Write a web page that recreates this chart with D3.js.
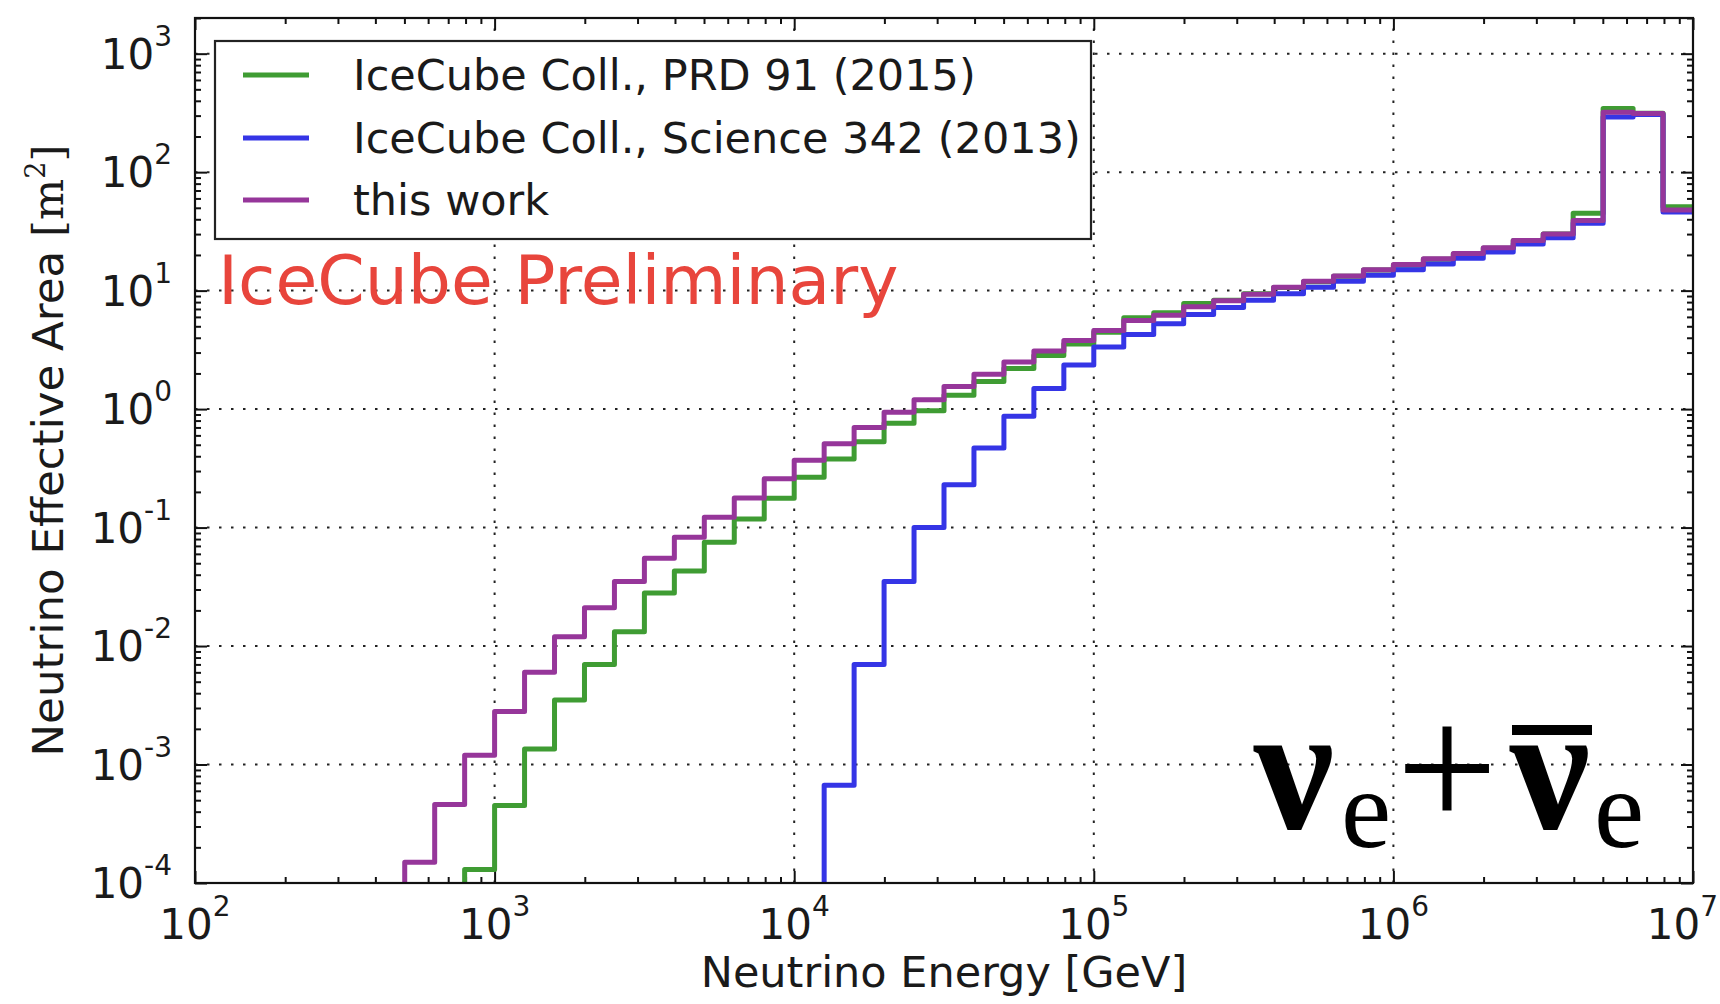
<!DOCTYPE html>
<html>
<head>
<meta charset="utf-8">
<script src="https://cdn.jsdelivr.net/npm/d3@7"></script>
<style>
  body { margin: 0; background: #fff; }
  svg { display: block; }
</style>
</head>
<body>
<svg id="chart" width="1720" height="1004"></svg>
<script>
// ---------------- DATA ----------------
// bin edges in log10(E / GeV), 0.1-decade bins
const binEdgesLog10 = [2.7, 2.8, 2.9, 3.0, 3.1, 3.2, 3.3, 3.4, 3.5, 3.6, 3.7, 3.8, 3.9,
  4.0, 4.1, 4.2, 4.3, 4.4, 4.5, 4.6, 4.7, 4.8, 4.9,
  5.0, 5.1, 5.2, 5.3, 5.4, 5.5, 5.6, 5.7, 5.8, 5.9,
  6.0, 6.1, 6.2, 6.3, 6.4, 6.5, 6.6, 6.7, 6.8, 6.9, 7.0];

// effective area [m^2] per bin (null = below the plotted range)
const prd91_2015 = [null, null, 1.3e-4,
  4.5e-4, 1.35e-3, 3.5e-3, 7.0e-3, 1.32e-2, 2.8e-2, 4.3e-2, 7.5e-2, 0.118, 0.177,
  0.266, 0.38, 0.53, 0.76, 0.97, 1.31, 1.71, 2.2, 2.84, 3.55,
  4.45, 5.9, 6.5, 7.8, 8.3, 9.4, 10.6, 11.9, 13.2, 14.9,
  16.4, 18.4, 20.4, 22.8, 26.5, 30, 45, 345, 314, 51];

const science342_2013 = [null, null, null,
  null, null, null, null, null, null, null, null, null, null,
  null, 6.7e-4, 7.0e-3, 3.5e-2, 0.10, 0.23, 0.47, 0.87, 1.49, 2.36,
  3.35, 4.27, 5.25, 6.3, 7.2, 8.3, 9.4, 10.7, 12.0, 13.5,
  15.0, 16.8, 18.8, 21.2, 24.8, 28, 37, 292, 306, 46];

const thisWork = [1.5e-4, 4.6e-4, 1.2e-3,
  2.8e-3, 6.0e-3, 1.2e-2, 2.1e-2, 3.5e-2, 5.5e-2, 8.3e-2, 0.122, 0.178, 0.258,
  0.37, 0.51, 0.70, 0.94, 1.2, 1.55, 1.97, 2.5, 3.1, 3.8,
  4.6, 5.6, 6.2, 7.3, 8.2, 9.3, 10.7, 12.0, 13.3, 15.0,
  16.6, 18.6, 20.6, 23.0, 26.5, 30, 39, 320, 312, 48];

const seriesLabels = ["IceCube Coll., PRD 91 (2015)", "IceCube Coll., Science 342 (2013)", "this work"];
const seriesValues = [prd91_2015, science342_2013, thisWork];

const xTickExponents = [2, 3, 4, 5, 6, 7];
const yTickExponents = [-4, -3, -2, -1, 0, 1, 2, 3];
const xDomain = [1e2, 1e7];
const yDomain = [1e-4, 2e3];

// ---------------- STYLE / LAYOUT ----------------
const seriesColors = ["#3f9c33", "#3535e6", "#96369a"];
const M = { l: 195, r: 1693, t: 18, b: 883 };
const FONT = "'DejaVu Sans', sans-serif";
const W = 1720;

const svg = d3.select("#chart");
const x = d3.scaleLog().domain(xDomain).range([M.l, M.r]);
const y = d3.scaleLog().domain(yDomain).range([M.b, M.t]);

svg.append("rect").attr("width", W).attr("height", 1004).attr("fill", "#fff");

svg.append("defs").append("clipPath").attr("id", "plotclip")
  .append("rect").attr("x", M.l).attr("y", M.t).attr("width", M.r - M.l).attr("height", M.b - M.t);

// ---------------- GRID ----------------
const grid = svg.append("g").attr("stroke", "#222").attr("stroke-width", 2)
  .attr("stroke-dasharray", "2.5,9.5").attr("fill", "none");
xTickExponents.map(e => Math.pow(10, e)).filter(v => v > xDomain[0] && v < xDomain[1]).forEach(v => {
  grid.append("line").attr("x1", x(v)).attr("x2", x(v)).attr("y1", M.b).attr("y2", M.t);
});
yTickExponents.map(e => Math.pow(10, e)).filter(v => v > yDomain[0] && v < yDomain[1]).forEach(v => {
  grid.append("line").attr("x1", M.l).attr("x2", M.r).attr("y1", y(v)).attr("y2", y(v));
});

// ---------------- TICKS (inside, all four sides) ----------------
const isPow10 = v => Math.abs(Math.log10(v) - Math.round(Math.log10(v))) < 1e-9;
const xMinor = x.ticks().filter(v => !isPow10(v));
const yMinor = y.ticks().filter(v => !isPow10(v));
const xMajor = xTickExponents.map(e => Math.pow(10, e));
const yMajor = yTickExponents.map(e => Math.pow(10, e));

function tickAxis(axisGen, vals, len, transform) {
  const g = svg.append("g").attr("transform", transform)
    .call(axisGen.tickValues(vals).tickSize(len).tickFormat(""));
  g.select(".domain").remove();
  g.selectAll(".tick line").attr("stroke", "#111").attr("stroke-width", 2);
}
tickAxis(d3.axisBottom(x), xMinor, -6, `translate(0,${M.b})`);
tickAxis(d3.axisBottom(x), xMajor, -12, `translate(0,${M.b})`);
tickAxis(d3.axisTop(x), xMinor, -6, `translate(0,${M.t})`);
tickAxis(d3.axisTop(x), xMajor, -12, `translate(0,${M.t})`);
tickAxis(d3.axisLeft(y), yMinor, -6, `translate(${M.l},0)`);
tickAxis(d3.axisLeft(y), yMajor, -12, `translate(${M.l},0)`);
tickAxis(d3.axisRight(y), yMinor, -6, `translate(${M.r},0)`);
tickAxis(d3.axisRight(y), yMajor, -12, `translate(${M.r},0)`);

// ---------------- SERIES ----------------
const edgesE = binEdgesLog10.map(e => Math.pow(10, e));
const line = d3.line().x(d => x(d[0])).y(d => y(d[1])).curve(d3.curveStepAfter);
const plotG = svg.append("g").attr("clip-path", "url(#plotclip)");
seriesValues.forEach((vals, si) => {
  const first = vals.findIndex(v => v !== null);
  const pts = [[edgesE[first], yDomain[0] * 0.5]];
  for (let i = first; i < vals.length; i++) pts.push([edgesE[i], vals[i]]);
  pts.push([edgesE[vals.length], vals[vals.length - 1]]);
  plotG.append("path").attr("d", line(pts)).attr("fill", "none")
    .attr("stroke", seriesColors[si]).attr("stroke-width", 5)
    .attr("stroke-linejoin", "round");
});

// frame
svg.append("rect").attr("x", M.l).attr("y", M.t).attr("width", M.r - M.l).attr("height", M.b - M.t)
  .attr("fill", "none").attr("stroke", "#111").attr("stroke-width", 2.2);

// ---------------- TICK LABELS ----------------
function powLabel(g, exp, xp, yp, anchor) {
  const t = g.append("text").attr("x", xp).attr("y", yp).attr("text-anchor", anchor)
    .attr("font-family", FONT).attr("fill", "#1a1a1a");
  t.append("tspan").attr("font-size", 42).text("10");
  t.append("tspan").attr("font-size", 28).attr("dy", -23).text(String(exp));
  return t;
}
const labels = svg.append("g");
xTickExponents.forEach(e => {
  const t = powLabel(labels, e, x(Math.pow(10, e)), 939, "middle");
  // keep the last label inside the page
  const bb = t.node().getBBox();
  if (bb.x + bb.width > W - 2) t.attr("x", +t.attr("x") - (bb.x + bb.width - (W - 2)));
});
yTickExponents.forEach(e => powLabel(labels, e, 172, y(Math.pow(10, e)) + 15, "end"));

// axis titles
svg.append("text").attr("x", (M.l + M.r) / 2).attr("y", 987).attr("text-anchor", "middle")
  .attr("font-family", FONT).attr("font-size", 43).attr("fill", "#1a1a1a")
  .text("Neutrino Energy [GeV]");

const yl = svg.append("text").attr("transform", `translate(63,${(M.t + M.b) / 2}) rotate(-90)`)
  .attr("text-anchor", "middle").attr("font-family", FONT).attr("font-size", 43.5).attr("fill", "#1a1a1a");
yl.append("tspan").text("Neutrino Effective Area ");
yl.append("tspan").attr("font-family", "'DejaVu Serif', serif").text("[m");
yl.append("tspan").attr("font-family", "'DejaVu Serif', serif").attr("font-size", 27).attr("dy", -18).text("2");
yl.append("tspan").attr("font-family", "'DejaVu Serif', serif").attr("dy", 18).text("]");

// ---------------- LEGEND ----------------
const lg = svg.append("g");
lg.append("rect").attr("x", 215).attr("y", 41).attr("width", 876).attr("height", 198)
  .attr("fill", "#fff").attr("stroke", "#222").attr("stroke-width", 2.2);
const rowY = [75, 138, 200];
seriesLabels.forEach((lab, i) => {
  lg.append("line").attr("x1", 243).attr("x2", 309).attr("y1", rowY[i]).attr("y2", rowY[i])
    .attr("stroke", seriesColors[i]).attr("stroke-width", 5);
  lg.append("text").attr("x", 353).attr("y", rowY[i] + 15).attr("font-family", FONT)
    .attr("font-size", 43).attr("fill", "#1a1a1a").text(lab);
});

// ---------------- ANNOTATIONS ----------------
svg.append("text").attr("x", 218).attr("y", 304).attr("font-family", FONT)
  .attr("font-size", 68).attr("fill", "#e8453c").text("IceCube Preliminary");

const SERIF = "'Liberation Serif', 'DejaVu Serif', serif";
const nu = svg.append("g").attr("font-family", SERIF).attr("fill", "#000").attr("text-anchor", "middle");
nu.append("text").attr("x", 1294).attr("y", 828).attr("font-size", 180).attr("font-weight", "bold").text("\u03BD");
nu.append("text").attr("x", 1366).attr("y", 847).attr("font-size", 113).text("e");
nu.append("text").attr("x", 1447).attr("y", 828).attr("font-size", 180).text("+");
nu.append("text").attr("x", 1550).attr("y", 828).attr("font-size", 180).attr("font-weight", "bold").text("\u03BD");
nu.append("text").attr("x", 1619).attr("y", 847).attr("font-size", 113).text("e");
nu.append("rect").attr("x", 1512).attr("y", 725).attr("width", 80).attr("height", 10).attr("fill", "#000");
</script>
</body>
</html>
